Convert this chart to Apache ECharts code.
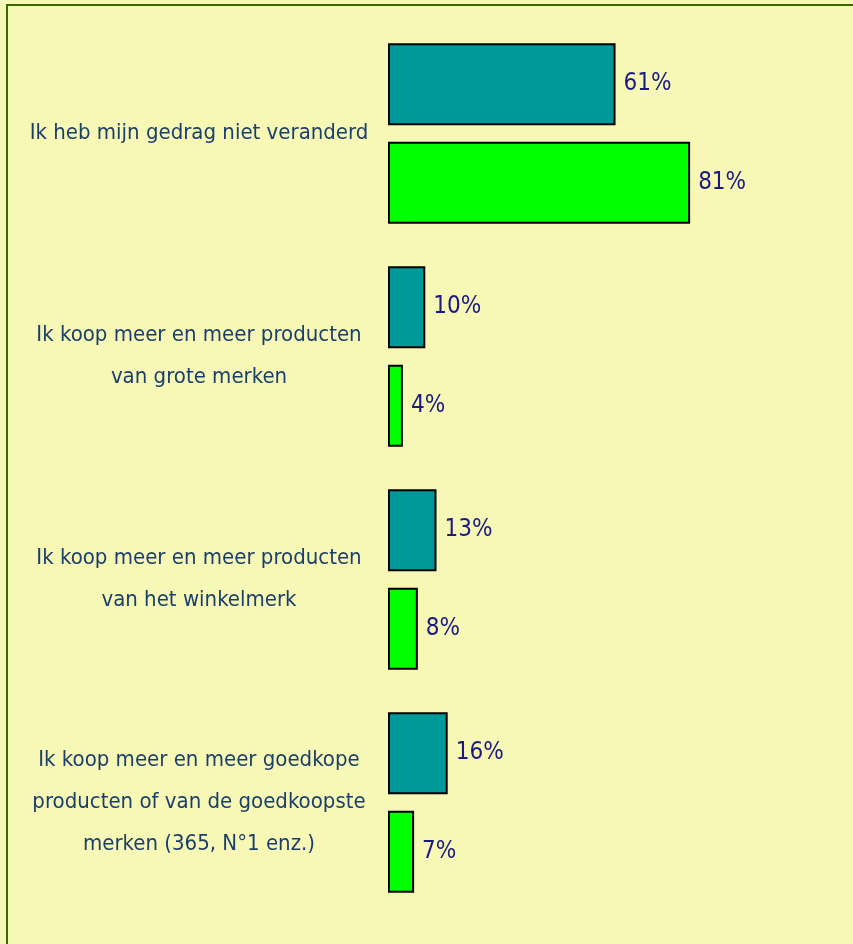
<!DOCTYPE html>
<html>
<head>
<meta charset="utf-8">
<script src="https://cdn.jsdelivr.net/npm/echarts@6/dist/echarts.min.js"></script>
<style>
html,body{margin:0;padding:0;background:#F7F8B6;}
#frame{position:absolute;left:6px;top:4px;width:900px;height:1000px;border-left:2px solid #3A6B00;border-top:2px solid #3A6B00;}
#chart{position:absolute;left:0;top:0;width:853px;height:944px;}
</style>
</head>
<body>
<div id="frame"></div>
<div id="chart"></div>
<script>
var categories = [
  'Ik heb mijn gedrag niet veranderd',
  'Ik koop meer en meer producten\nvan grote merken',
  'Ik koop meer en meer producten\nvan het winkelmerk',
  'Ik koop meer en meer goedkope\nproducten of van de goedkoopste\nmerken (365, N°1 enz.)'
];
var seriesA = [61, 10, 13, 16];
var seriesB = [81, 4, 8, 7];

var chart = echarts.init(document.getElementById('chart'), null, {renderer: 'canvas'});
var labelFont = '"Liberation Sans Narrow", "Arial Narrow", "DejaVu Sans Condensed", sans-serif';
function valLabel() {
  return {
    show: true, position: 'right', distance: 8,
    formatter: '{c}%', color: '#1A1A80',
    fontFamily: labelFont, fontSize: 24
  };
}
chart.setOption({
  backgroundColor: 'transparent',
  animation: false,
  grid: {left: 388, top: 22, height: 892, width: 373, containLabel: false, outerBoundsMode: 'none'},
  xAxis: {type: 'value', min: 0, max: 100, show: false},
  yAxis: {
    type: 'category', data: categories, inverse: true,
    axisLine: {show: false}, axisTick: {show: false}, splitLine: {show: false},
    axisLabel: {
      align: 'center', margin: 189, color: '#1B3F6B',
      fontFamily: labelFont, fontSize: 22, lineHeight: 42
    }
  },
  series: [
    {type: 'bar', data: seriesA, barCategoryGap: '19%', barGap: '20%',
     itemStyle: {color: '#009999', borderColor: '#000', borderWidth: 2},
     label: valLabel()},
    {type: 'bar', data: seriesB,
     itemStyle: {color: '#00FF00', borderColor: '#000', borderWidth: 2},
     label: valLabel()}
  ]
});
</script>
</body>
</html>
